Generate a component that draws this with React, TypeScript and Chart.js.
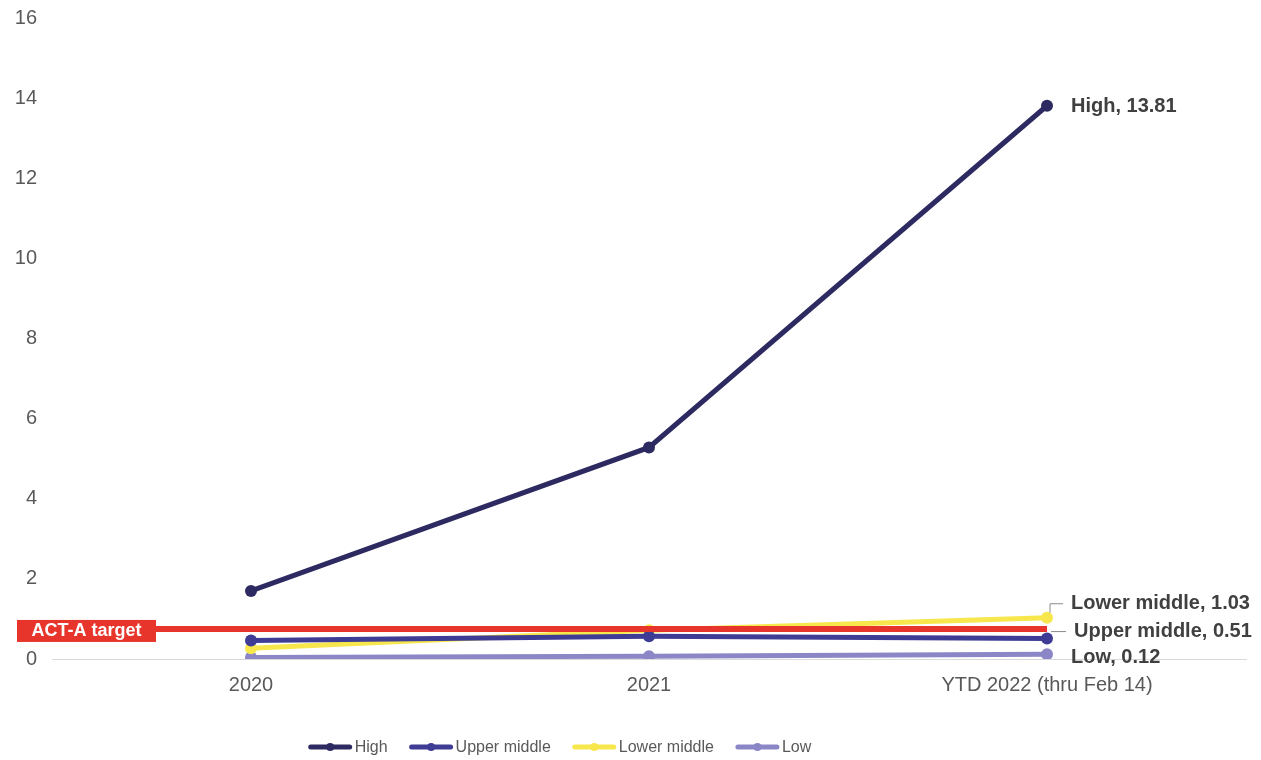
import React, { useEffect, useRef } from "react";
import { Chart, registerables } from "chart.js";

Chart.register(...registerables);

// Categories and series values
const categories = ["2020", "2021", "YTD 2022 (thru Feb 14)"];
const seriesNames = ["High", "Upper middle", "Lower middle", "Low"];
const highValues = [1.7, 5.28, 13.81];
const upperMiddleValues = [0.46, 0.57, 0.51];
const lowerMiddleValues = [0.27, 0.72, 1.03];
const lowValues = [0.04, 0.07, 0.12];
const actATarget = 0.75;
const actALabel = "ACT-A target";

// Y axis range
const yMin = 0;
const yMax = 16;
const yStep = 2;

// Styles
const seriesColors = ["#2c2a60", "#3e3c94", "#f8e74c", "#8b87c7"];
const targetColor = "#e8352b";
const FONT = "'Liberation Sans', Arial, Helvetica, sans-serif";
// end-label placement relative to the last point: [dx, dy, leader]
const endLabelStyle: [number, number, string][] = [
  [24, 0, "none"],
  [27, -8, "flat"],
  [24, -15, "elbow"],
  [24, 2, "none"],
];

const allValues = [highValues, upperMiddleValues, lowerMiddleValues, lowValues];

const overlayPlugin = {
  id: "overlay",
  afterDatasetsDraw(chart: any) {
    const ctx: CanvasRenderingContext2D = chart.ctx;
    const x = chart.scales.x;
    const y = chart.scales.y;
    const lastIdx = categories.length - 1;

    // ACT-A target line and tag
    const ty = y.getPixelForValue(actATarget);
    const boxLeft = 17;
    const boxRight = 156;
    ctx.save();
    ctx.strokeStyle = targetColor;
    ctx.lineWidth = 6;
    ctx.beginPath();
    ctx.moveTo(boxRight, ty);
    ctx.lineTo(x.getPixelForValue(lastIdx), ty);
    ctx.stroke();
    ctx.fillStyle = targetColor;
    ctx.fillRect(boxLeft, ty - 9, boxRight - boxLeft, 22);
    ctx.fillStyle = "#ffffff";
    ctx.font = `bold 18px ${FONT}`;
    ctx.textAlign = "center";
    ctx.textBaseline = "middle";
    ctx.fillText(actALabel, (boxLeft + boxRight) / 2, ty + 2);
    ctx.restore();

    // Series end labels
    ctx.save();
    ctx.font = `bold 20px ${FONT}`;
    ctx.textAlign = "left";
    ctx.textBaseline = "middle";
    allValues.forEach((vals, i) => {
      const meta = chart.getDatasetMeta(i);
      const pt = meta.data[lastIdx];
      const [dx, dy, leader] = endLabelStyle[i];
      const lx = pt.x + dx;
      const ly = pt.y + dy;
      ctx.strokeStyle = "#8c8c8c";
      ctx.lineWidth = 1;
      if (leader === "elbow") {
        ctx.beginPath();
        ctx.moveTo(pt.x + 3, pt.y - 5);
        ctx.lineTo(pt.x + 3, ly + 1);
        ctx.lineTo(lx - 8, ly + 1);
        ctx.stroke();
      } else if (leader === "flat") {
        ctx.beginPath();
        ctx.moveTo(pt.x + 4, ly + 1);
        ctx.lineTo(lx - 8, ly + 1);
        ctx.stroke();
      }
      ctx.fillStyle = "#404040";
      ctx.fillText(`${seriesNames[i]}, ${vals[lastIdx].toFixed(2)}`, lx, ly + 1);
    });
    ctx.restore();
  },
  afterDraw(chart: any) {
    // Legend: line-with-dot swatches, centred below the axis
    const ctx: CanvasRenderingContext2D = chart.ctx;
    const swatch = 43;
    const textGap = 3;
    const itemGap = 22;
    const cy = 747;
    const centerX = 560;
    ctx.save();
    ctx.font = `16px ${FONT}`;
    const widths = seriesNames.map((n) => ctx.measureText(n).width);
    const total =
      widths.reduce((a, w) => a + swatch + textGap + w, 0) + itemGap * (seriesNames.length - 1);
    let cx = centerX - total / 2;
    seriesNames.forEach((name, i) => {
      ctx.strokeStyle = seriesColors[i];
      ctx.lineWidth = 5;
      ctx.lineCap = "round";
      ctx.beginPath();
      ctx.moveTo(cx + 2, cy);
      ctx.lineTo(cx + swatch - 2, cy);
      ctx.stroke();
      ctx.fillStyle = seriesColors[i];
      ctx.beginPath();
      ctx.arc(cx + swatch / 2, cy, 4, 0, Math.PI * 2);
      ctx.fill();
      ctx.fillStyle = "#595959";
      ctx.textAlign = "left";
      ctx.textBaseline = "middle";
      ctx.fillText(name, cx + swatch + textGap, cy + 1);
      cx += swatch + textGap + widths[i] + itemGap;
    });
    ctx.restore();
  },
};

export default function App() {
  const canvasRef = useRef<HTMLCanvasElement | null>(null);

  useEffect(() => {
    if (!canvasRef.current) return;
    Chart.defaults.font.family = FONT;
    const chart = new Chart(canvasRef.current, {
      type: "line",
      data: {
        labels: categories,
        datasets: allValues.map((vals, i) => ({
          label: seriesNames[i],
          data: vals,
          borderColor: seriesColors[i],
          backgroundColor: seriesColors[i],
          pointBackgroundColor: seriesColors[i],
          pointBorderColor: seriesColors[i],
          borderWidth: 5,
          pointRadius: 6,
          pointBorderWidth: 0,
          tension: 0,
          fill: false,
        })),
      },
      options: {
        animation: false,
        responsive: false,
        devicePixelRatio: 1,
        layout: { padding: { top: 18, right: 15, bottom: 49, left: 0 } },
        plugins: {
          legend: { display: false },
          tooltip: { enabled: false },
        },
        scales: {
          x: {
            offset: true,
            grid: { display: false, drawTicks: false },
            border: { display: true, color: "#d9d9d9", width: 1 },
            ticks: {
              padding: 14,
              color: "#595959",
              font: { size: 20, family: FONT },
              maxRotation: 0,
              autoSkip: false,
            },
          },
          y: {
            min: yMin,
            max: yMax,
            grid: { display: false, drawTicks: false },
            border: { display: false },
            afterFit: (scale: any) => {
              scale.width = 52;
              scale.paddingTop = 0;
            },
            ticks: {
              stepSize: yStep,
              padding: 15,
              color: "#595959",
              font: { size: 20, family: FONT },
            },
          },
        },
      },
      plugins: [overlayPlugin],
    });
    return () => chart.destroy();
  }, []);

  return (
    <div style={{ position: "fixed", left: 0, top: 0, width: 1261, height: 760, background: "#ffffff" }}>
      <canvas ref={canvasRef} width={1261} height={760} style={{ display: "block" }} />
    </div>
  );
}
